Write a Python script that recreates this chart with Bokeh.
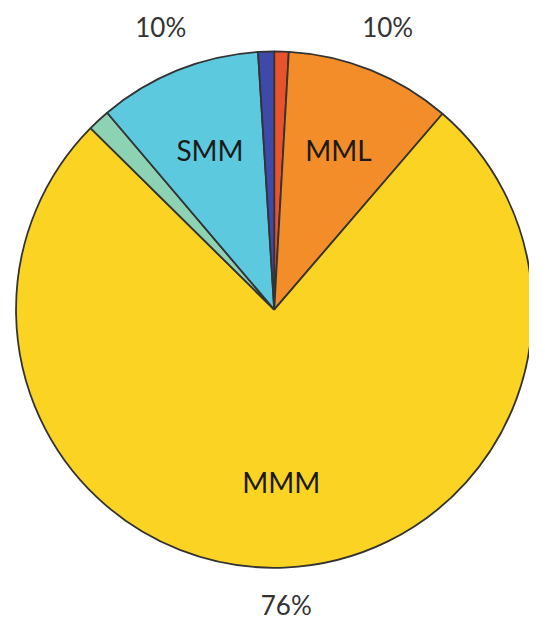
import math
from bokeh.plotting import figure
from bokeh.models import Range1d, ColumnDataSource
from bokeh.core.properties import value
from bokeh.embed import file_html
from bokeh.resources import INLINE

# Data (clockwise from 12 o'clock)
names = ["", "MML", "MMM", "", "SMM", ""]
shares = [0.9, 10.4, 76.1, 1.4, 10.2, 1.0]
pct_labels = ["", "10%", "76%", "", "10%", ""]
colors = ["#E9532B", "#F38D29", "#FBD423", "#8ED2B4", "#5DC9DE", "#3E49A8"]

# layout: data units follow the 545x641 reference frame, drawn on a canvas that fits
W, H = 529, 625
FW, FH = 545, 641
cx, cy, R = 282, 317, 266

total = sum(shares)
starts, ends, mids = [], [], []
cum = 0.0
for s in shares:
    a0 = math.pi / 2 - cum / total * 2 * math.pi
    cum += s
    a1 = math.pi / 2 - cum / total * 2 * math.pi
    starts.append(a0)
    ends.append(a1)
    mids.append((a0 + a1) / 2)

src = ColumnDataSource(dict(start=starts, end=ends, color=colors))

p = figure(width=W, height=H, output_backend="svg", toolbar_location=None,
           x_range=Range1d(0, FW), y_range=Range1d(-FH, 0),
           min_border=0)
p.axis.visible = False
p.grid.visible = False
p.outline_line_color = None
p.background_fill_color = "white"

p.wedge(x=cx, y=-cy, radius=R, start_angle="start", end_angle="end",
        direction="clock", fill_color="color", line_color="#333333",
        line_width=1.8, source=src)

nx, ny, nt = [], [], []
px, py, pt = [], [], []
for i in range(len(shares)):
    if names[i]:
        r = 0.665 * R
        nx.append(cx + r * math.cos(mids[i]))
        ny.append(-cy + r * math.sin(mids[i]))
        nt.append(names[i])
    if pct_labels[i]:
        r = (1.175 if math.sin(mids[i]) > 0 else 1.14) * R
        px.append(cx + r * math.cos(mids[i]))
        py.append(-cy + r * math.sin(mids[i]))
        pt.append(pct_labels[i])

p.text(x=nx, y=ny, text=nt, text_align="center", text_baseline="middle",
       text_font=value("Lato"), text_font_size="28px", text_color="#1a1a1a")
p.text(x=px, y=py, text=pt, text_align="center", text_baseline="middle",
       text_font=value("Lato"), text_font_size="26px", text_color="#333333")

open("out.html", "w").write(file_html(p, INLINE))
